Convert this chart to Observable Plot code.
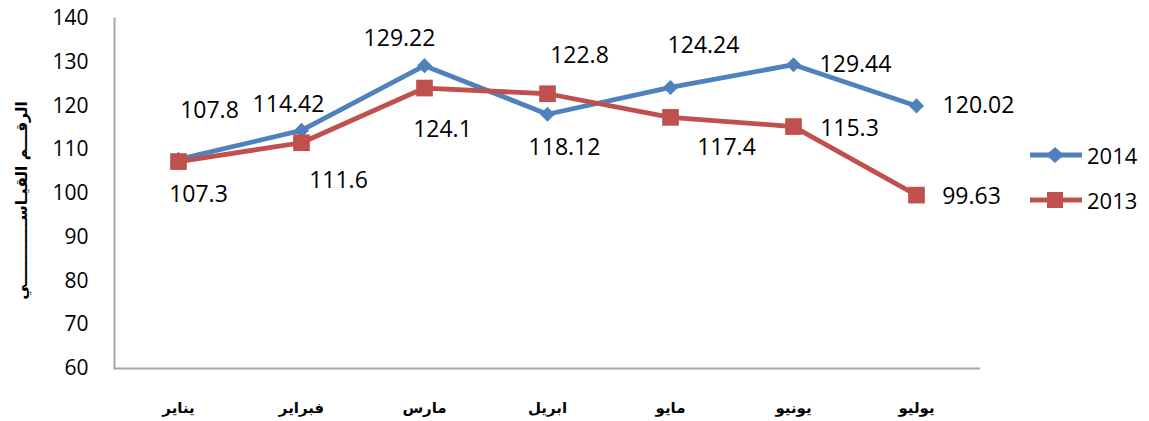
<!DOCTYPE html>
<html>
<head>
<meta charset="utf-8">
<script src="https://cdn.jsdelivr.net/npm/d3@7"></script>
<script src="https://cdn.jsdelivr.net/npm/@observablehq/plot@0.6"></script>
<style>
  html, body { margin: 0; padding: 0; background: #fff; }
  #wrap { position: relative; width: 1149px; height: 421px; }
  #legend { position: absolute; left: 1028px; top: 138px; font-family: "Open Sans", sans-serif; font-size: 22px; color: #000; }
  .item { display: flex; align-items: center; height: 34px; margin-bottom: 11px; }
  .item span { margin-left: 3px; }
</style>
</head>
<body>
<div id="wrap"><div id="legend"></div></div>
<script>
const months = ["يناير", "فبراير", "مارس", "ابريل", "مايو", "يونيو", "يوليو"];
const values2014 = [107.8, 114.42, 129.22, 118.12, 124.24, 129.44, 120.02];
const values2013 = [107.3, 111.6, 124.1, 122.8, 117.4, 115.3, 99.63];
const seriesNames = ["2014", "2013"];
const yTicks = [60, 70, 80, 90, 100, 110, 120, 130, 140];
const yLabel = "الرقـــم القيـاســــــــــــي";

// label placement (pixel offsets from each point), kept apart from the data
const offsets2014 = [[31, -49], [-13, -26], [-25, -27], [17, 33], [33, -42], [62, 0], [62, 0]];
const offsets2013 = [[20, 33], [37, 38], [18, 42], [32, -38], [56, 30], [56, 2], [55, 2]];

const blue = "#4F81BD";
const red = "#C0504D";
const axisGray = "#A6A6A6";

const d2014 = months.map((m, i) => ({month: m, value: values2014[i]}));
const d2013 = months.map((m, i) => ({month: m, value: values2013[i]}));

const labelMarks = [];
d2014.forEach((d, i) => labelMarks.push(Plot.text([d], {
  x: "month", y: "value", text: d => String(d.value),
  dx: offsets2014[i][0], dy: offsets2014[i][1],
  fontSize: 23, fill: "#000", fontFamily: "Open Sans"
})));
d2013.forEach((d, i) => labelMarks.push(Plot.text([d], {
  x: "month", y: "value", text: d => String(d.value),
  dx: offsets2013[i][0], dy: offsets2013[i][1],
  fontSize: 23, fill: "#000", fontFamily: "Open Sans"
})));

const chart = Plot.plot({
  width: 1149,
  height: 421,
  marginLeft: 114,
  marginRight: 169,
  marginTop: 18,
  marginBottom: 53,
  style: {fontFamily: "Open Sans", background: "#fff", overflow: "visible"},
  x: {type: "point", domain: months, padding: 0.5},
  y: {domain: [60, 140]},
  marks: [
    Plot.ruleY([60], {stroke: axisGray, strokeWidth: 2}),
    Plot.frame({anchor: "left", stroke: axisGray, strokeWidth: 2}),
    Plot.axisY({ticks: yTicks, tickSize: 0, tickPadding: 26, fontSize: 21, label: null, fontFamily: "Open Sans"}),
    Plot.axisX({tickSize: 0, tickPadding: 34, fontSize: 15, fontWeight: "bold", fontFamily: "DejaVu Sans", label: null}),
    Plot.text([yLabel], {
      text: d => d, frameAnchor: "left", textAnchor: "middle", dx: -92, dy: 7, rotate: -90,
      fontSize: 15.5, fontWeight: "bold", fontFamily: "DejaVu Sans", fill: "#000"
    }),
    Plot.line(d2014, {x: "month", y: "value", stroke: blue, strokeWidth: 4.8}),
    Plot.dot(d2014, {x: "month", y: "value", symbol: "diamond2", r: 6.8, fill: blue, stroke: "none"}),
    Plot.line(d2013, {x: "month", y: "value", stroke: red, strokeWidth: 4.8}),
    Plot.dot(d2013, {x: "month", y: "value", symbol: "square", r: 9.4, fill: red, stroke: "none"}),
    ...labelMarks
  ]
});
document.getElementById("wrap").prepend(chart);

// legend
const legend = document.getElementById("legend");
const symbols = [
  `<polygon points="27,9 36,17 27,25 18,17" fill="${blue}"/>`,
  `<rect x="19" y="9" width="16" height="16" fill="${red}"/>`
];
const colors = [blue, red];
seriesNames.forEach((name, i) => {
  const item = document.createElement("div");
  item.className = "item";
  item.innerHTML = `<svg width="56" height="34"><line x1="2" y1="17" x2="54" y2="17" stroke="${colors[i]}" stroke-width="4.8"/>${symbols[i]}</svg><span>${name}</span>`;
  legend.appendChild(item);
});
</script>
</body>
</html>
